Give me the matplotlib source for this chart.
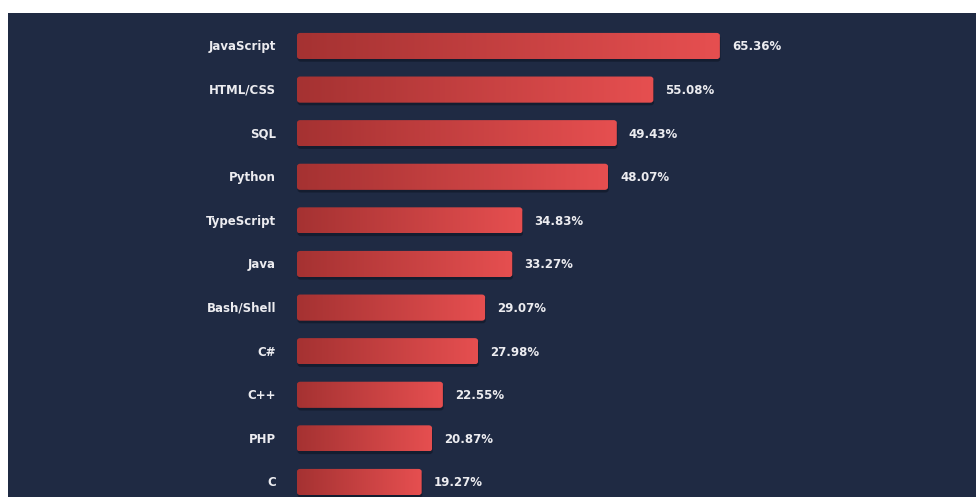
import matplotlib
matplotlib.use("Agg")
import matplotlib.pyplot as plt
import numpy as np
from matplotlib.patches import FancyBboxPatch, Rectangle
from matplotlib.colors import LinearSegmentedColormap

languages = ["JavaScript", "HTML/CSS", "SQL", "Python", "TypeScript", "Java",
             "Bash/Shell", "C#", "C++", "PHP", "C"]
percentages = [65.36, 55.08, 49.43, 48.07, 34.83, 33.27, 29.07, 27.98, 22.55, 20.87, 19.27]
value_labels = [f"{v:.2f}%" for v in percentages]

W, H = 976, 497
BG = "#1f2a43"
fig = plt.figure(figsize=(W / 100, H / 100), dpi=100)
fig.patch.set_facecolor("white")

ax = fig.add_axes([0, 0, 1, 1])
ax.set_facecolor("none")
ax.add_patch(Rectangle((8 / W, 0), 1 - 8 / W, 1 - 13 / H, transform=fig.transFigure,
                       facecolor=BG, edgecolor="none", zorder=0))
x0, scale = 297.0, 6.47
y0, step = 46.0, 43.6

cmap = LinearSegmentedColormap.from_list("bar", ["#a53232", "#e64f50"])
bh = 0.6
grad = np.linspace(0, 1, 256).reshape(1, -1)
for i, (lang, v, lab) in enumerate(zip(languages, percentages, value_labels)):
    sh = FancyBboxPatch((0.1, i - bh / 2 + 0.06), v, bh,
                        boxstyle="round,pad=0,rounding_size=0.5",
                        mutation_aspect=0.12,
                        facecolor="#121a2c", edgecolor="none", alpha=0.8, zorder=1)
    ax.add_patch(sh)
    p = FancyBboxPatch((0, i - bh / 2), v, bh,
                       boxstyle="round,pad=0,rounding_size=0.5",
                       mutation_aspect=0.12,
                       facecolor="none", edgecolor="none", zorder=2)
    ax.add_patch(p)
    im = ax.imshow(grad, cmap=cmap, aspect="auto", extent=(0, v, i + bh / 2, i - bh / 2),
                   zorder=2, interpolation="bilinear")
    im.set_clip_path(p)
    ax.text(-21 / scale, i + 0.02, lang, ha="right", va="center", color="#ececf0",
            fontsize=8.5, fontweight="bold", family="DejaVu Sans", zorder=3)
    ax.text(v + 12 / scale, i + 0.02, lab, ha="left", va="center", color="#ececf0",
            fontsize=8.5, fontweight="bold", family="DejaVu Sans", zorder=3)

ax.set_xlim(-x0 / scale, (W - x0) / scale)
ax.set_ylim((H - y0) / step, -y0 / step)
ax.axis("off")
fig.savefig("out.png", dpi=100, facecolor=fig.get_facecolor())
